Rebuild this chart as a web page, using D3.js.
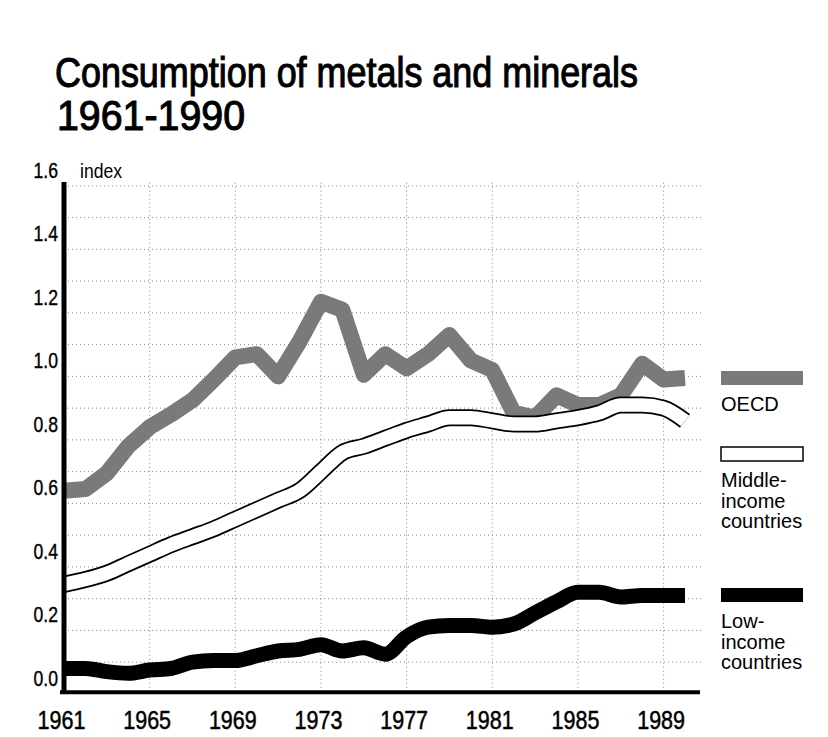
<!DOCTYPE html>
<html>
<head>
<meta charset="utf-8">
<script src="https://cdn.jsdelivr.net/npm/d3@7"></script>
<style>
  body { margin: 0; background: white; }
  text { font-family: "Liberation Sans", Arial, sans-serif; fill: black; }
</style>
</head>
<body>
<script>
// data (index values)
const years = d3.range(1961, 1991)
const oecd = [0.59, 0.595, 0.645, 0.73, 0.79, 0.83, 0.875, 0.94, 1.01, 1.02,
              0.95, 1.06, 1.185, 1.16, 0.955, 1.02, 0.975, 1.02, 1.08, 1.00,
              0.97, 0.835, 0.82, 0.89, 0.86, 0.86, 0.89, 0.99, 0.94, 0.945]
const middle = [0.295, 0.31, 0.33, 0.36, 0.39, 0.42, 0.445, 0.47, 0.50, 0.53,
                0.56, 0.59, 0.65, 0.71, 0.73, 0.755, 0.78, 0.80, 0.82, 0.82,
                0.81, 0.80, 0.80, 0.81, 0.82, 0.835, 0.86, 0.86, 0.85, 0.81]
const low = [0.03, 0.03, 0.02, 0.015, 0.025, 0.03, 0.05, 0.055, 0.055, 0.07,
             0.085, 0.09, 0.105, 0.085, 0.095, 0.075, 0.13, 0.16, 0.165, 0.165,
             0.16, 0.17, 0.205, 0.24, 0.27, 0.27, 0.255, 0.26, 0.26, 0.26]
const yearTicks = [1961, 1965, 1969, 1973, 1977, 1981, 1985, 1989]
const valueTicks = [0, 0.2, 0.4, 0.6, 0.8, 1.0, 1.2, 1.4, 1.6]

const w = 828
const h = 737

const xScale = d3.scaleLinear()
                 .domain([1961, 1990])
                 .range([64, 685])
const yScale = d3.scaleLinear()
                 .domain([0, 1.6])
                 .range([678, 170])

const svg = d3.select("body")
              .append("svg")
              .attr("width", w)
              .attr("height", h)
              .style("background-color", "white")

// squeeze text horizontally, the print uses a narrow grotesque
const squeeze = (sel, k) => {
  sel.each(function () {
    const len = this.getComputedTextLength()
    d3.select(this).attr("textLength", len * k).attr("lengthAdjust", "spacingAndGlyphs")
  })
}

// title (regular face thickened a little with a stroke)
svg.append("text")
   .attr("x", 55).attr("y", 87)
   .style("font-size", "42px")
   .attr("stroke", "black").attr("stroke-width", 1.1)
   .attr("textLength", 583).attr("lengthAdjust", "spacingAndGlyphs")
   .text("Consumption of metals and minerals")
svg.append("text")
   .attr("x", 57).attr("y", 130)
   .style("font-size", "42px")
   .attr("stroke", "black").attr("stroke-width", 1.1)
   .attr("textLength", 188).attr("lengthAdjust", "spacingAndGlyphs")
   .text("1961-1990")

// dotted grid
const grid = svg.append("g")
                .attr("stroke", "#555")
                .attr("stroke-width", 1)
                .attr("stroke-dasharray", "1,3")
                .attr("opacity", 0.7)
grid.selectAll("line.h")
    .data(d3.range(0.05, 1.6, 0.1))
    .enter()
    .append("line")
    .attr("x1", xScale(1961)).attr("x2", xScale(1990.8))
    .attr("y1", (d) => yScale(d)).attr("y2", (d) => yScale(d))
grid.selectAll("line.v")
    .data(yearTicks.slice(1))
    .enter()
    .append("line")
    .attr("x1", (d) => xScale(d)).attr("x2", (d) => xScale(d))
    .attr("y1", yScale(1.56)).attr("y2", yScale(-0.04))

// lines
const line = d3.line()
               .x((d, i) => xScale(years[i]))
               .y((d) => yScale(d))

svg.append("path")
   .datum(oecd)
   .attr("d", line)
   .attr("fill", "none")
   .attr("stroke", "#7a7a7a")
   .attr("stroke-width", 16)
   .attr("stroke-linejoin", "round")

const smooth = d3.line()
                 .curve(d3.curveMonotoneX)
                 .x((d, i) => xScale(years[i]))
                 .y((d) => yScale(d))

svg.append("path")
   .datum(middle)
   .attr("d", smooth)
   .attr("fill", "none")
   .attr("stroke", "black")
   .attr("stroke-width", 17)
svg.append("path")
   .datum(middle)
   .attr("d", smooth)
   .attr("fill", "none")
   .attr("stroke", "white")
   .attr("stroke-width", 13.5)

svg.append("path")
   .datum(low)
   .attr("d", smooth)
   .attr("fill", "none")
   .attr("stroke", "black")
   .attr("stroke-width", 15)

// axes
const yAxis = d3.axisLeft(yScale)
                .tickValues(valueTicks)
                .tickSize(0)
                .tickPadding(6)
                .tickFormat(d3.format(".1f"))
const gy = svg.append("g")
              .attr("transform", "translate(" + xScale(1961) + ", 0)")
              .call(yAxis)
gy.select(".domain").remove()
gy.selectAll("text")
  .attr("fill", "black")
  .attr("stroke", "black").attr("stroke-width", 0.4)
  .style("font-size", "22px")
  .style("font-family", "Liberation Sans, Arial, sans-serif")
  .call(squeeze, 0.8)

const xAxis = d3.axisBottom(xScale)
                .tickValues(yearTicks)
                .tickSize(0)
                .tickFormat(d3.format("d"))
const gx = svg.append("g")
              .attr("transform", "translate(0, " + (yScale(0) + 14) + ")")
              .call(xAxis)
gx.select(".domain").remove()
gx.selectAll("text")
  .attr("fill", "black")
  .attr("stroke", "black").attr("stroke-width", 0.5)
  .attr("x", -3).attr("y", 37).attr("dy", 0)
  .style("font-size", "25px")
  .style("font-family", "Liberation Sans, Arial, sans-serif")
  .call(squeeze, 0.86)

svg.append("line")
   .attr("x1", xScale(1961)).attr("x2", xScale(1961))
   .attr("y1", yScale(1.562)).attr("y2", yScale(-0.045))
   .attr("stroke", "black").attr("stroke-width", 5)
svg.append("line")
   .attr("x1", xScale(1961) - 4).attr("x2", xScale(1990.7))
   .attr("y1", yScale(-0.045)).attr("y2", yScale(-0.045))
   .attr("stroke", "black").attr("stroke-width", 4)

svg.append("text")
   .attr("x", 80).attr("y", 178)
   .style("font-size", "20px")
   .text("index")
   .call(squeeze, 0.88)

// legend
const legend = [
  {name: ["OECD"], fill: "#7a7a7a", stroke: "none", y: 371, ty: 411},
  {name: ["Middle-", "income", "countries"], fill: "white", stroke: "black", y: 447, ty: 487},
  {name: ["Low-", "income", "countries"], fill: "black", stroke: "none", y: 588, ty: 628}
]
const lg = svg.selectAll("g.legend")
              .data(legend)
              .enter()
              .append("g")
lg.append("rect")
  .attr("x", 721).attr("y", (d) => d.y)
  .attr("width", 82).attr("height", 14)
  .attr("fill", (d) => d.fill)
  .attr("stroke", (d) => d.stroke)
  .attr("stroke-width", 1.5)
lg.append("text")
  .attr("x", 721).attr("y", (d) => d.ty)
  .style("font-size", "20px")
  .selectAll("tspan")
  .data((d) => d.name)
  .enter()
  .append("tspan")
  .attr("x", 721)
  .attr("dy", (d, i) => i === 0 ? 0 : 20.5)
  .text((d) => d)
</script>
</body>
</html>
